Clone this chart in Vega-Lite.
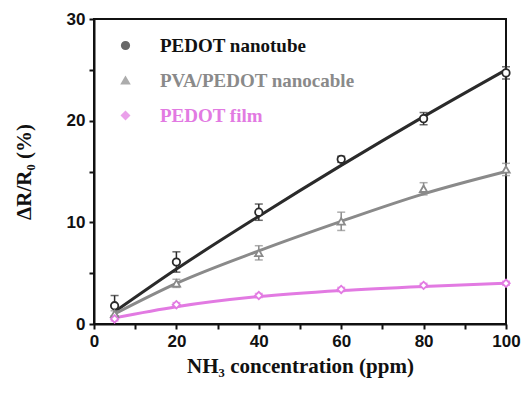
{
  "$schema": "https://vega.github.io/schema/vega-lite/v6.json",
  "width": 412,
  "height": 305,
  "autosize": "none",
  "padding": {"left": 94, "top": 19, "right": 20, "bottom": 71},
  "background": "white",
  "config": {
    "font": "Liberation Serif",
    "view": {"stroke": "#111", "strokeWidth": 2},
    "axis": {
      "domainColor": "#111", "domainWidth": 2, "tickColor": "#111", "tickWidth": 2, "tickSize": 5,
      "grid": false, "labelFont": "Liberation Sans", "labelFontWeight": "bold", "labelFontSize": 17, "labelColor": "#111",
      "titleFont": "Liberation Serif", "titleFontWeight": "bold", "titleFontSize": 21, "titleColor": "#111"
    },
    "legend": {
      "labelFont": "Liberation Serif", "labelFontWeight": "bold", "labelFontSize": 19, "labelLimit": 400,
      "symbolFillColor": "white", "symbolStrokeWidth": 1.8, "symbolSize": 55
    }
  },
  "data": {"values": [
    {"series": "PEDOT nanotube", "conc": 5, "value": 1.8, "err": 1.0, "fit": 1.2},
    {"series": "PEDOT nanotube", "conc": 20, "value": 6.1, "err": 1.0, "fit": 5.4},
    {"series": "PEDOT nanotube", "conc": 40, "value": 11.0, "err": 0.8, "fit": 10.6},
    {"series": "PEDOT nanotube", "conc": 60, "value": 16.2, "err": 0.3, "fit": 15.6},
    {"series": "PEDOT nanotube", "conc": 80, "value": 20.2, "err": 0.6, "fit": 20.4},
    {"series": "PEDOT nanotube", "conc": 100, "value": 24.7, "err": 0.6, "fit": 25.0},
    {"series": "PVA/PEDOT nanocable", "conc": 5, "value": 1.0, "err": 0.3, "fit": 1.0},
    {"series": "PVA/PEDOT nanocable", "conc": 20, "value": 4.0, "err": 0.4, "fit": 4.0},
    {"series": "PVA/PEDOT nanocable", "conc": 40, "value": 7.0, "err": 0.7, "fit": 7.2},
    {"series": "PVA/PEDOT nanocable", "conc": 60, "value": 10.1, "err": 0.9, "fit": 10.1},
    {"series": "PVA/PEDOT nanocable", "conc": 80, "value": 13.3, "err": 0.6, "fit": 12.8},
    {"series": "PVA/PEDOT nanocable", "conc": 100, "value": 15.2, "err": 0.6, "fit": 15.0},
    {"series": "PEDOT film", "conc": 5, "value": 0.5, "err": 0.2, "fit": 0.6},
    {"series": "PEDOT film", "conc": 20, "value": 1.9, "err": 0.2, "fit": 1.7},
    {"series": "PEDOT film", "conc": 40, "value": 2.8, "err": 0.2, "fit": 2.7},
    {"series": "PEDOT film", "conc": 60, "value": 3.4, "err": 0.2, "fit": 3.3},
    {"series": "PEDOT film", "conc": 80, "value": 3.8, "err": 0.2, "fit": 3.7},
    {"series": "PEDOT film", "conc": 100, "value": 4.0, "err": 0.2, "fit": 4.0}
  ]},
  "encoding": {
    "x": {"field": "conc", "type": "quantitative",
      "scale": {"domain": [0, 100], "nice": false},
      "axis": {"values": [0,10,20,30,40,50,60,70,80,90,100], "labelExpr": "datum.value % 20 == 0 ? datum.label : ''", "title": "NH₃ concentration (ppm)", "labelPadding": 4, "titlePadding": 6, "labelFlush": false}},
    "color": {"field": "series", "type": "nominal",
      "scale": {"domain": ["PEDOT nanotube", "PVA/PEDOT nanocable", "PEDOT film"], "range": ["#2a2a2a", "#8a8a8a", "#e27ae2"]},
      "legend": {
        "orient": "none", "legendX": 22, "legendY": 17, "title": null,
        "labelFont": "Liberation Serif", "labelFontWeight": "bold", "labelFontSize": 19, "labelLimit": 400,
        "labelColor": {"expr": "datum.label == 'PEDOT film' ? '#e27ae2' : datum.label == 'PEDOT nanotube' ? '#111111' : '#8a8a8a'"},
        "labelOffset": 25, "rowPadding": 15, "symbolSize": 55, "symbolStrokeWidth": 1.8, "symbolFillColor": "white"
      }}
  },
  "layer": [
    {
      "mark": {"type": "line", "strokeWidth": 3, "interpolate": "monotone"},
      "encoding": {
        "y": {"field": "fit", "type": "quantitative",
          "scale": {"domain": [0, 30], "nice": false},
          "axis": {"values": [0,5,10,15,20,25,30], "labelExpr": "datum.value % 10 == 0 ? datum.label : ''", "title": "ΔR/R₀ (%)", "labelPadding": 4, "titlePadding": 32}}
      }
    },
    {
      "mark": {"type": "errorbar", "ticks": {"size": 8}, "thickness": 1.5},
      "encoding": {
        "y": {"field": "value", "type": "quantitative", "title": "ΔR/R₀ (%)"},
        "yError": {"field": "err"}
      }
    },
    {
      "mark": {"type": "point", "filled": false, "fill": "white", "fillOpacity": 1, "strokeWidth": 1.8, "size": 55},
      "encoding": {
        "y": {"field": "value", "type": "quantitative", "title": "ΔR/R₀ (%)"},
        "shape": {"field": "series", "type": "nominal",
          "scale": {"domain": ["PEDOT nanotube", "PVA/PEDOT nanocable", "PEDOT film"], "range": ["circle", "triangle-up", "diamond"]}
        }
      }
    }
  ]
}
